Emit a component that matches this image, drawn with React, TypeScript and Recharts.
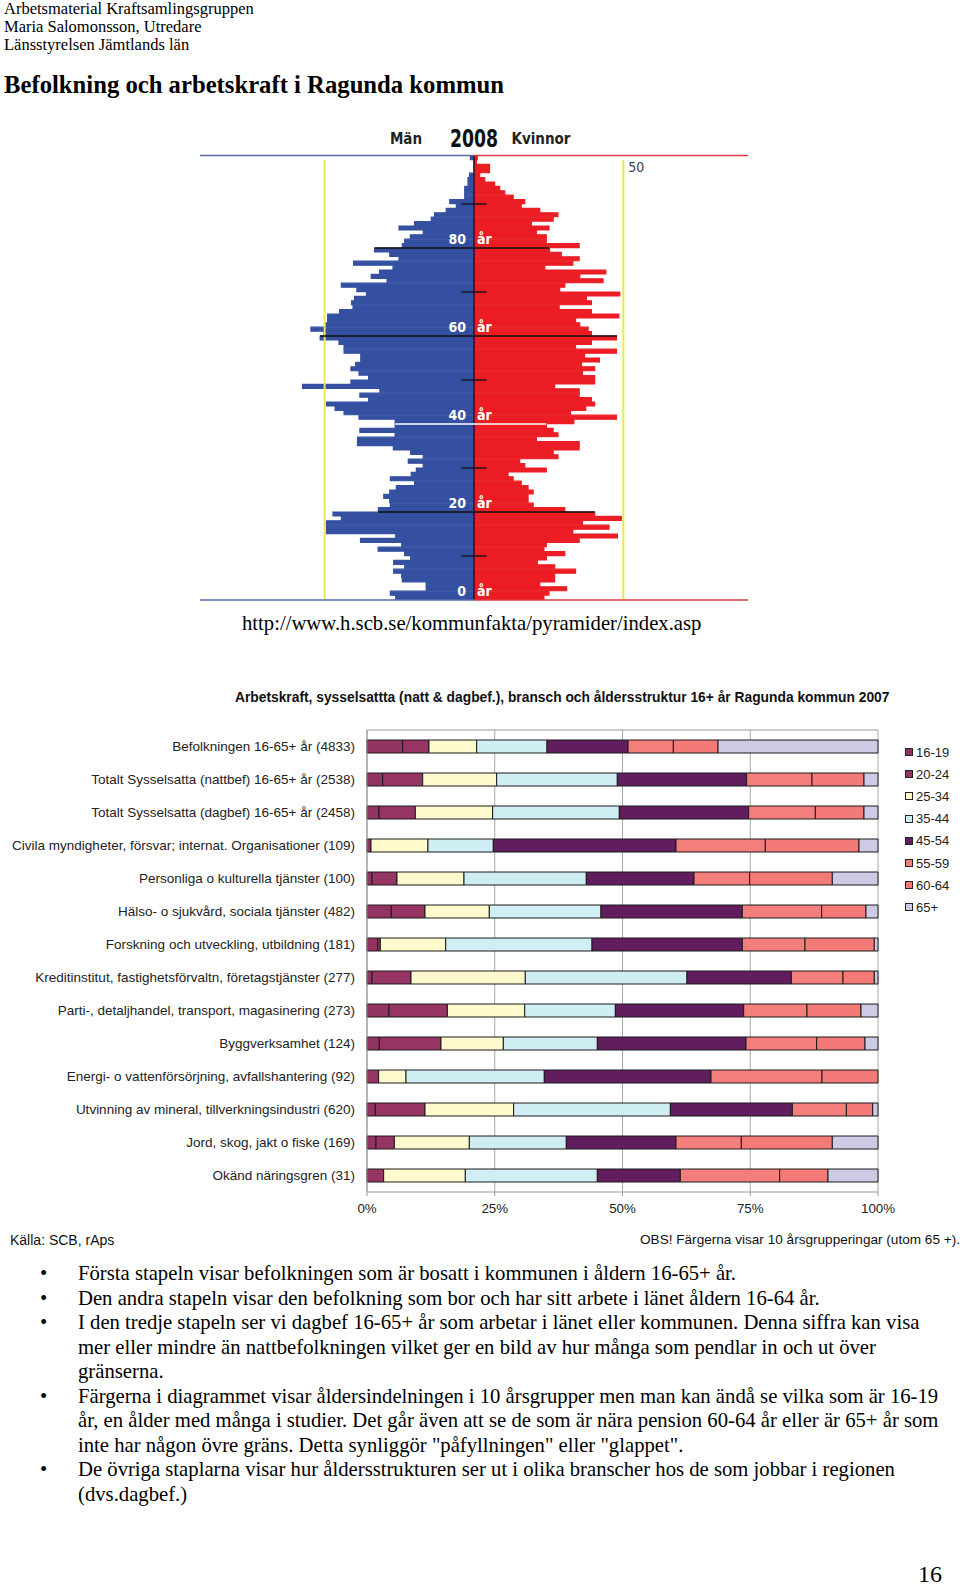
import React from 'react';
import {
  BarChart,
  Bar,
  XAxis,
  YAxis,
  CartesianGrid,
  ReferenceLine,
  ReferenceDot,
} from 'recharts';

// ---------- Befolkningspyramid 2008 (antal personer per ettårsklass, 0-100 år) ----------
const menByAge = [
  26.2, 28, 16, 16, 24, 24.2, 26.9, 23.2, 26.9, 21.2,
  23.2, 32.1, 24.2, 38, 26.2, 49.4, 49.4, 49.4, 44.4, 47.2,
  32, 28, 28.2, 30.2, 28.2, 26, 19.9, 28, 21, 19.3,
  17, 22, 17, 21.2, 27, 39, 39, 26.4, 38.2, 26.4,
  26.4, 38.5, 43.5, 46.5, 49.4, 35.3, 38.2, 31.5, 57.4, 41.2,
  35.3, 38.5, 41.2, 39.6, 37.9, 37.9, 43.5, 43.5, 45.2, 51.5,
  50.2, 54.6, 49.6, 49, 49, 45, 40.5, 41, 40, 36,
  39.2, 44.4, 29.1, 34.4, 31.6, 27.1, 40.3, 25.1, 28.2, 33.3,
  24, 23.2, 21.3, 17, 25.1, 19.9, 14.3, 13.2, 9.3, 5.9,
  8.1, 3.1, 3.1, 3.1, 2, 2, 1.5, 0, 0, 0,
  1.2,
];
const womenByAge = [
  23.4, 25.1, 31, 22, 27, 27, 34, 27, 21.2, 24.2,
  30.4, 23.4, 24.2, 35.2, 48, 33.1, 45.2, 36.3, 49.3, 40.4,
  30.4, 19.8, 18.1, 18.1, 19.8, 18.1, 15.8, 13.1, 11.4, 24.2,
  17, 15.3, 28.1, 26.5, 35.2, 35.2, 20.9, 28.1, 26.5, 24.2,
  33.4, 47.7, 32.3, 37.4, 40.4, 39.3, 35.2, 35.2, 27, 40.4,
  40.4, 36.3, 40.4, 36, 42, 37, 47.7, 34, 39.3, 47.7,
  39.3, 38.2, 35.4, 34, 48.5, 39.3, 28.5, 39.3, 37.6, 48.8,
  28.7, 30.4, 43.2, 35.4, 44.1, 23.7, 33.1, 35.2, 29.2, 25.3,
  35.2, 24.2, 24.2, 20.9, 25.1, 19.2, 26.5, 28.1, 22, 15.8,
  17, 13.1, 10.3, 8.6, 6.9, 3.6, 1.9, 5.2, 5.2, 0.8,
  1.1,
];
const labelAges = [0, 20, 40, 60, 80];
const tickAges = [10, 30, 50, 70, 90];
const dividerAges = [20, 40, 60, 80];
const dividerMen = [32, 26.4, 51.5, 33.3];
const dividerWomen = [40.4, 24.2, 47.9, 25.1];
const dividerColors = ['#111', '#fff', '#111', '#111'];
const guideValue = 50;
const topAge = 101;
const halfWidth = 91.73;

// ---------- Arbetskraft per bransch och åldersgrupp (andel i %) ----------
const branches = [
  'Befolkningen 16-65+ år (4833)',
  'Totalt Sysselsatta (nattbef) 16-65+ år (2538)',
  'Totalt Sysselsatta (dagbef) 16-65+ år (2458)',
  'Civila myndigheter, försvar; internat. Organisationer (109)',
  'Personliga o kulturella tjänster (100)',
  'Hälso- o sjukvård, sociala tjänster (482)',
  'Forskning och utveckling, utbildning (181)',
  'Kreditinstitut, fastighetsförvaltn, företagstjänster (277)',
  'Parti-, detaljhandel, transport, magasinering (273)',
  'Byggverksamhet (124)',
  'Energi- o vattenförsörjning, avfallshantering (92)',
  'Utvinning av mineral, tillverkningsindustri (620)',
  'Jord, skog, jakt o fiske (169)',
  'Okänd näringsgren (31)',
];
const age1619 = [6.98, 3.07, 2.35, 0, 0.98, 4.76, 2.09, 0.98, 4.31, 2.41, 0, 1.63, 1.76, 0];
const age2024 = [5.15, 7.83, 7.11, 0.78, 4.89, 6.59, 0.52, 7.63, 11.42, 12.07, 2.28, 9.72, 3.59, 3.26];
const age2534 = [9.33, 14.48, 15.13, 11.15, 13.11, 12.59, 12.79, 22.37, 15.13, 12.2, 5.35, 17.35, 14.68, 15.98];
const age3544 = [13.76, 23.61, 24.79, 12.79, 23.94, 21.85, 28.64, 31.64, 17.74, 18.4, 27.07, 30.66, 18.98, 25.83];
const age4554 = [15.85, 25.31, 25.31, 35.75, 21.07, 27.66, 29.42, 20.42, 25.11, 29.09, 32.62, 23.87, 21.46, 16.24];
const age5559 = [8.87, 12.79, 13.05, 17.48, 10.89, 15.53, 12.26, 10.11, 12.39, 13.83, 21.72, 10.57, 12.79, 19.44];
const age6064 = [8.74, 10.18, 9.52, 18.33, 16.18, 8.68, 13.57, 6.13, 10.57, 9.46, 10.96, 5.15, 17.81, 9.46];
const age65plus = [31.3, 2.74, 2.74, 3.72, 8.94, 2.35, 0.72, 0.72, 3.33, 2.54, 0, 1.04, 8.94, 9.78];

const groupNames = ['16-19', '20-24', '25-34', '35-44', '45-54', '55-59', '60-64', '65+'];
const groupValues = [age1619, age2024, age2534, age3544, age4554, age5559, age6064, age65plus];
const groupColors = ['#923462', '#963463', '#FFFACD', '#CFEEF3', '#611D5E', '#F47E7C', '#F47A78', '#CDCAE6'];
const percentTicks = [0, 0.25, 0.5, 0.75, 1];

// ettårsklass a ritas mitt i intervallet [a, a+1]
const pyramidData = menByAge.map((m, i) => ({ age: i + 0.5, men: -m, women: womenByAge[i] }));

const branchData = branches.map((name, i) => {
  const row: Record<string, any> = { name };
  groupNames.forEach((g, k) => {
    row[g] = groupValues[k][i];
  });
  return row;
});

const serif = '"Liberation Serif", "Times New Roman", serif';
const sans = '"Liberation Sans", Arial, sans-serif';
const narrow = '"Liberation Sans Narrow", "Arial Narrow", "DejaVu Sans Condensed", sans-serif';

const AgeLabel = (age: number) => (props: any) => {
  const vb = props.viewBox || {};
  const cx = vb.x + (vb.width || 0) / 2;
  const cy = vb.y + (vb.height || 0) / 2;
  return (
    <g>
      <text x={cx - 8} y={cy} dy={5} textAnchor="end" fill="#fff" fontSize={14} fontWeight={700} fontFamily={narrow}>
        {age}
      </text>
      <text x={cx + 3} y={cy} dy={5} textAnchor="start" fill="#fff" fontSize={14} fontWeight={700} fontFamily={narrow}>
        år
      </text>
    </g>
  );
};

const BranchTick = (props: any) => {
  const { x, y, payload } = props;
  return (
    <text x={x} y={y} dy={4.5} textAnchor="end" fill="#222" fontSize={13.5} fontFamily={sans}>
      {payload.value}
    </text>
  );
};

const Pyramid = () => (
  <div style={{ position: 'absolute', left: 0, top: 100, width: 960, height: 520 }}>
    <BarChart
      width={960}
      height={520}
      data={pyramidData}
      layout="vertical"
      stackOffset="sign"
      barCategoryGap={0}
      barSize={4.4}
      margin={{ top: 55.6, right: 212, bottom: 20, left: 200 }}
    >
      <XAxis type="number" domain={[-halfWidth, halfWidth]} hide allowDataOverflow />
      <YAxis type="number" dataKey="age" domain={[0, topAge]} ticks={[0, topAge]} reversed hide allowDataOverflow />
      <Bar dataKey="men" stackId="p" fill="#3550A0" stroke="#3550A0" strokeWidth={1.2} isAnimationActive={false} />
      <Bar dataKey="women" stackId="p" fill="#EC1D25" stroke="#EC1D25" strokeWidth={1.2} isAnimationActive={false} />

      {/* gula hjälplinjer vid 50 personer */}
      <ReferenceLine segment={[{ x: -guideValue, y: 0 }, { x: -guideValue, y: 100 }]} stroke="#EFE55A" strokeWidth={2} />
      <ReferenceLine segment={[{ x: guideValue, y: 0 }, { x: guideValue, y: 100 }]} stroke="#EFE55A" strokeWidth={2} />

      {/* mittaxel */}
      <ReferenceLine segment={[{ x: 0, y: 0 }, { x: 0, y: topAge }]} stroke="#111" strokeWidth={1.3} />

      {dividerAges.map((a, i) => (
        <ReferenceLine
          key={'d' + a}
          segment={[{ x: -dividerMen[i], y: a }, { x: dividerWomen[i], y: a }]}
          stroke={dividerColors[i]}
          strokeWidth={1.5}
        />
      ))}
      {tickAges.map((a) => (
        <ReferenceLine key={'t' + a} segment={[{ x: -4.2, y: a }, { x: 4.2, y: a }]} stroke="#111" strokeWidth={1.3} />
      ))}

      {/* över- och underkant, blå för män och röd för kvinnor */}
      <ReferenceLine segment={[{ x: -halfWidth, y: topAge }, { x: 0, y: topAge }]} stroke="#5A6AA6" strokeWidth={1.5} />
      <ReferenceLine segment={[{ x: 0, y: topAge }, { x: halfWidth, y: topAge }]} stroke="#E03A40" strokeWidth={1.5} />
      <ReferenceLine segment={[{ x: -halfWidth, y: 0 }, { x: 0, y: 0 }]} stroke="#5A6AA6" strokeWidth={1.5} />
      <ReferenceLine segment={[{ x: 0, y: 0 }, { x: halfWidth, y: 0 }]} stroke="#E03A40" strokeWidth={1.5} />

      {labelAges.map((a) => (
        <ReferenceDot
          key={'l' + a}
          x={0}
          y={a + 2}
          r={1}
          fill="none"
          stroke="none"
          label={{ content: AgeLabel(a) }}
        />
      ))}
      <ReferenceDot
        x={guideValue}
        y={98.4}
        r={1}
        fill="none"
        stroke="none"
        label={{ value: String(guideValue), position: 'right', offset: 4, fill: '#444', fontSize: 14, fontFamily: narrow }}
      />
    </BarChart>
  </div>
);

const BranchChart = () => (
  <div style={{ position: 'absolute', left: 0, top: 700, width: 960, height: 530 }}>
    <BarChart
      width={960}
      height={530}
      data={branchData}
      layout="vertical"
      stackOffset="expand"
      barSize={13}
      margin={{ top: 29, right: 82, bottom: 0, left: 0 }}
      style={{ fontFamily: sans }}
    >
      <CartesianGrid horizontal={false} vertical stroke="#A8A8A8" />
      <XAxis
        type="number"
        domain={[0, 1]}
        ticks={percentTicks}
        tickFormatter={(v: number) => `${Math.round(v * 100)}%`}
        axisLine={{ stroke: '#999' }}
        tickLine={{ stroke: '#999' }}
        tickSize={4}
        tickMargin={8}
        height={38}
        tick={{ fontSize: 13.3, fill: '#222', fontFamily: sans }}
      />
      <XAxis
        xAxisId="top"
        orientation="top"
        type="number"
        domain={[0, 1]}
        tick={false}
        tickLine={false}
        axisLine={{ stroke: '#999' }}
        height={1}
      />
      <YAxis
        type="category"
        dataKey="name"
        width={367}
        interval={0}
        tickLine={false}
        tickSize={4}
        tickMargin={8}
        axisLine={{ stroke: '#999' }}
        tick={<BranchTick />}
      />
      {groupNames.map((g, k) => (
        <Bar
          key={g}
          dataKey={g}
          stackId="a"
          fill={groupColors[k]}
          stroke="#1a1a1a"
          strokeWidth={1}
          isAnimationActive={false}
        />
      ))}
    </BarChart>
  </div>
);

const bullets: string[][] = [
  ['Första stapeln visar befolkningen som är bosatt i kommunen i åldern 16-65+ år.'],
  ['Den andra stapeln visar den befolkning som bor och har sitt arbete i länet åldern 16-64 år.'],
  [
    'I den tredje stapeln ser vi dagbef 16-65+ år som arbetar i länet eller kommunen. Denna siffra kan visa',
    'mer eller mindre än nattbefolkningen vilket ger en bild av hur många som pendlar in och ut över',
    'gränserna.',
  ],
  [
    'Färgerna i diagrammet visar åldersindelningen i 10 årsgrupper men man kan ändå se vilka som är 16-19',
    'år, en ålder med många i studier. Det går även att se de som är nära pension 60-64 år eller är 65+ år som',
    'inte har någon övre gräns. Detta synliggör "påfyllningen" eller "glappet".',
  ],
  [
    'De övriga staplarna visar hur åldersstrukturen ser ut i olika branscher hos de som jobbar i regionen',
    '(dvs.dagbef.)',
  ],
];

export default function App() {
  return (
    <div
      style={{
        position: 'absolute',
        left: 0,
        top: 0,
        width: 960,
        height: 1587,
        background: '#fff',
        overflow: 'hidden',
        fontFamily: serif,
        color: '#000',
      }}
    >
      <div style={{ position: 'absolute', left: 4, top: 0, fontSize: 16.5, lineHeight: '18.2px' }}>
        Arbetsmaterial Kraftsamlingsgruppen
        <br />
        Maria Salomonsson, Utredare
        <br />
        Länsstyrelsen Jämtlands län
      </div>
      <div style={{ position: 'absolute', left: 4, top: 70, fontSize: 24.7, fontWeight: 700, lineHeight: '30px' }}>
        Befolkning och arbetskraft i Ragunda kommun
      </div>

      {/* pyramidens rubrik */}
      <div style={{ position: 'absolute', left: 376, top: 130, width: 60, textAlign: 'center', fontFamily: narrow, fontWeight: 700, fontSize: 15, color: '#222' }}>
        Män
      </div>
      <div
        style={{
          position: 'absolute',
          left: 434,
          top: 125,
          width: 80,
          textAlign: 'center',
          fontFamily: narrow,
          fontWeight: 700,
          fontSize: 24,
          color: '#111',
          transform: 'scaleX(0.8)',
        }}
      >
        2008
      </div>
      <div style={{ position: 'absolute', left: 511, top: 130, width: 60, textAlign: 'center', fontFamily: narrow, fontWeight: 700, fontSize: 15, color: '#222' }}>
        Kvinnor
      </div>

      <Pyramid />

      <div style={{ position: 'absolute', left: 242, top: 610, fontSize: 20.7, lineHeight: '26px' }}>
        http://www.h.scb.se/kommunfakta/pyramider/index.asp
      </div>

      <div style={{ position: 'absolute', left: 235, top: 689, fontFamily: sans, fontWeight: 700, fontSize: 13.8, lineHeight: '17px', color: '#111', whiteSpace: 'nowrap' }}>
        Arbetskraft, sysselsattta (natt &amp; dagbef.), bransch och åldersstruktur 16+ år Ragunda kommun 2007
      </div>

      <BranchChart />

      {/* förklaring */}
      <div style={{ position: 'absolute', left: 905, top: 741, fontFamily: sans, fontSize: 13, color: '#222' }}>
        {groupNames.map((g, k) => (
          <div key={g} style={{ display: 'flex', alignItems: 'center', height: 22.2 }}>
            <span
              style={{
                display: 'inline-block',
                width: 6,
                height: 6,
                background: groupColors[k],
                border: '1px solid #222',
                marginRight: 3,
              }}
            />
            {g}
          </div>
        ))}
      </div>

      <div style={{ position: 'absolute', left: 10, top: 1232, fontFamily: sans, fontSize: 14, color: '#111', whiteSpace: 'nowrap' }}>
        Källa: SCB, rAps
      </div>
      <div style={{ position: 'absolute', left: 640, top: 1232, fontFamily: sans, fontSize: 13.6, color: '#111', whiteSpace: 'nowrap' }}>
        OBS! Färgerna visar 10 årsgrupperingar (utom 65 +).
      </div>

      <div style={{ position: 'absolute', left: 0, top: 1261, width: 960, fontSize: 20.7, lineHeight: '24.5px', whiteSpace: 'nowrap' }}>
        {bullets.map((lines, i) => (
          <div key={i} style={{ position: 'relative', paddingLeft: 78 }}>
            <span style={{ position: 'absolute', left: 40 }}>•</span>
            {lines.map((l, j) => (
              <React.Fragment key={j}>
                {l}
                {j < lines.length - 1 && <br />}
              </React.Fragment>
            ))}
          </div>
        ))}
      </div>

      <div style={{ position: 'absolute', left: 918, top: 1562, fontSize: 24, lineHeight: '24px' }}>16</div>
    </div>
  );
}
